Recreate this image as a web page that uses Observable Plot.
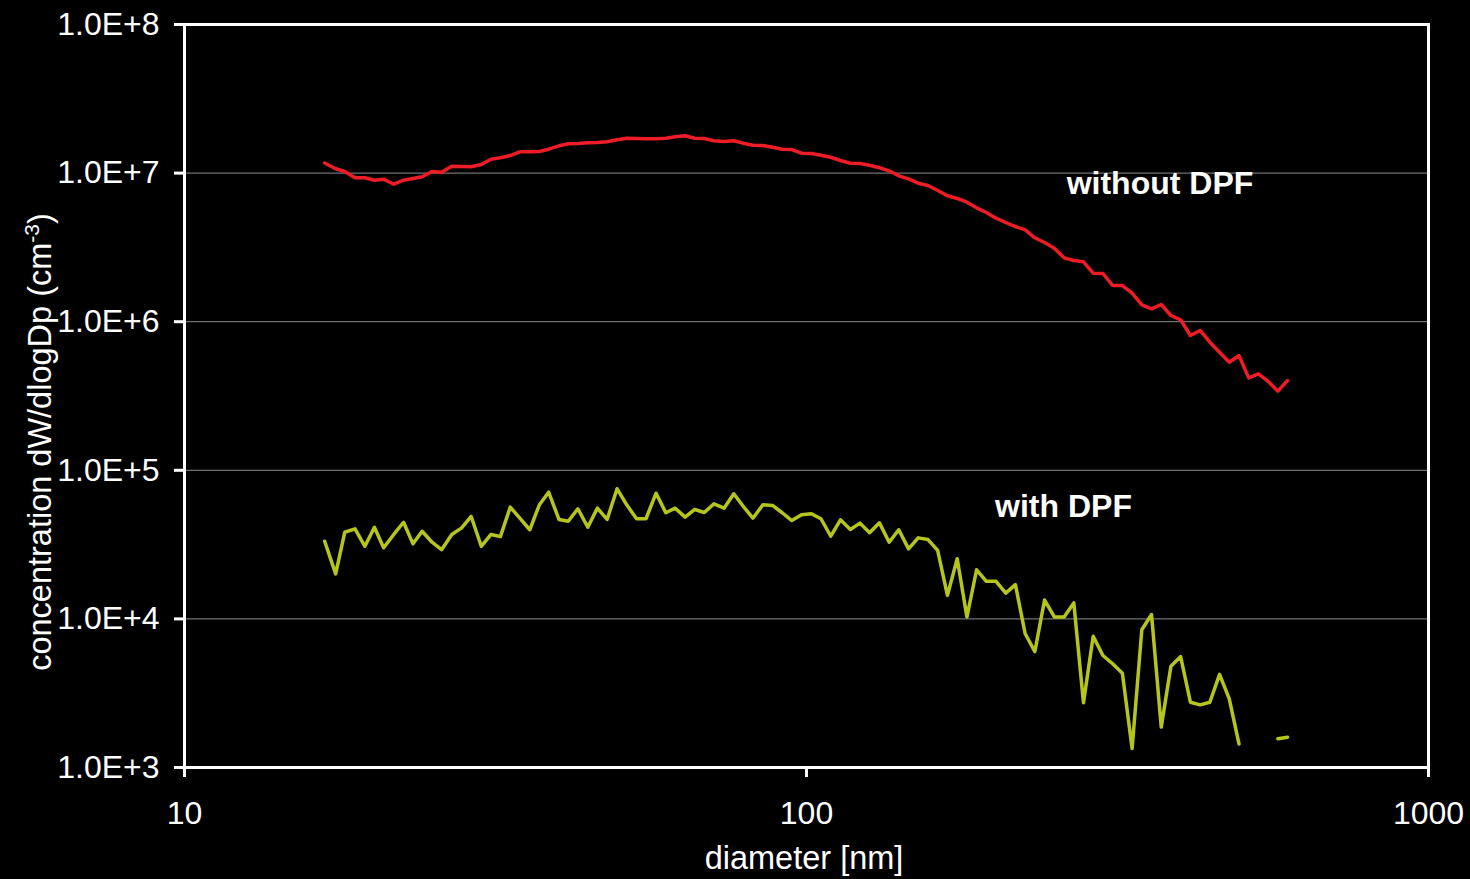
<!DOCTYPE html>
<html><head><meta charset="utf-8">
<script src="https://cdn.jsdelivr.net/npm/d3@7"></script>
<script src="https://cdn.jsdelivr.net/npm/@observablehq/plot@0.6"></script>
<style>html,body{margin:0;padding:0;background:#000;} #chart{width:1470px;height:879px;}</style>
</head><body><div id="chart"></div>
<script>
// diameter channels [nm]
const diameter = [16.8,17.5,18.1,18.8,19.5,20.2,20.9,21.7,22.5,23.3,
  24.1,25.0,25.9,26.9,27.9,28.9,30.0,31.1,32.2,33.4,
  34.6,35.9,37.2,38.5,40.0,41.4,42.9,44.5,46.1,47.8,
  49.6,51.4,53.3,55.2,57.3,59.4,61.5,63.8,66.1,68.5,
  71.0,73.7,76.4,79.1,82.0,85.1,88.2,91.4,94.7,98.2,
  101.8,105.5,109.4,113.4,117.6,121.9,126.3,131.0,135.8,140.7,
  145.9,151.2,156.8,162.5,168.5,174.7,181.1,187.7,194.6,201.7,
  209.1,216.7,224.7,232.9,241.4,250.3,259.5,269.0,278.8,289.0,
  299.6,310.6,322.0,333.8,346.0,358.7,371.8,385.4,399.5,414.2,
  429.4,445.1,461.4,478.3,495.8,514.0,532.8,552.3,572.5,593.5];
// concentration without DPF
const withoutDPF = [1.17e7,1.07e7,1.025e7,9.30e6,9.30e6,8.96e6,9.10e6,8.42e6,8.96e6,9.20e6,
  9.44e6,1.025e7,1.014e7,1.113e7,1.108e7,1.103e7,1.143e7,1.240e7,1.268e7,1.313e7,
  1.391e7,1.391e7,1.398e7,1.448e7,1.526e7,1.575e7,1.582e7,1.599e7,1.607e7,1.624e7,
  1.675e7,1.718e7,1.709e7,1.701e7,1.701e7,1.718e7,1.755e7,1.782e7,1.718e7,1.709e7,
  1.650e7,1.632e7,1.650e7,1.590e7,1.541e7,1.534e7,1.494e7,1.448e7,1.441e7,1.361e7,
  1.355e7,1.320e7,1.279e7,1.216e7,1.166e7,1.160e7,1.130e7,1.086e7,1.036e7,9.59e6,
  9.15e6,8.55e6,8.25e6,7.64e6,7.04e6,6.75e6,6.37e6,5.84e6,5.43e6,4.97e6,
  4.65e6,4.37e6,4.15e6,3.67e6,3.41e6,3.12e6,2.69e6,2.58e6,2.53e6,2.12e6,
  2.11e6,1.752e6,1.752e6,1.555e6,1.299e6,1.221e6,1.305e6,1.101e6,1.030e6,8.07e5,
  8.73e5,7.28e5,6.23e5,5.34e5,5.92e5,4.19e5,4.46e5,3.96e5,3.41e5,4.02e5];
// concentration with DPF (null = no value)
const withDPF = [3.33e4,2.01e4,3.83e4,4.04e4,3.08e4,4.14e4,3.01e4,3.70e4,4.47e4,3.20e4,
  3.89e4,3.28e4,2.92e4,3.70e4,4.10e4,4.89e4,3.08e4,3.70e4,3.58e4,5.65e4,
  4.76e4,3.98e4,5.86e4,7.12e4,4.67e4,4.54e4,5.51e4,4.14e4,5.56e4,4.67e4,
  7.51e4,5.86e4,4.72e4,4.72e4,7.01e4,5.18e4,5.56e4,4.84e4,5.45e4,5.20e4,
  5.95e4,5.56e4,6.95e4,5.73e4,4.76e4,5.86e4,5.80e4,5.18e4,4.59e4,5.02e4,
  5.10e4,4.72e4,3.60e4,4.64e4,4.00e4,4.41e4,3.80e4,4.43e4,3.28e4,3.98e4,
  2.96e4,3.51e4,3.42e4,2.89e4,1.44e4,2.54e4,1.03e4,2.14e4,1.79e4,1.79e4,
  1.49e4,1.70e4,7.94e3,6.03e3,1.34e4,1.03e4,1.03e4,1.28e4,2.73e3,7.65e3,
  5.67e3,4.99e3,4.31e3,1.34e3,8.45e3,1.07e4,1.87e3,4.81e3,5.58e3,2.75e3,
  2.64e3,2.75e3,4.23e3,2.90e3,1.44e3,null,null,null,1.56e3,1.60e3];
const xTicks = [10, 100, 1000];
const yTicks = [1e3, 1e4, 1e5, 1e6, 1e7, 1e8];
const seriesLabels = ["without DPF", "with DPF"];
const seriesLabelX = [262, 201];
const seriesLabelY = [8.5e6, 5.7e4];

const rows = diameter.map((d, i) => ({d, without: withoutDPF[i], with: withDPF[i]}));
const fmtY = v => "1.0E+" + Math.round(Math.log10(v));
const font = "'Liberation Sans', Arial, sans-serif";

const plot = Plot.plot({
  width: 1470, height: 879,
  marginLeft: 184, marginRight: 42, marginTop: 24, marginBottom: 112,
  style: {background: "#000", color: "#fff", fontFamily: font},
  x: {type: "log", domain: [10, 1000]},
  y: {type: "log", domain: [1e3, 1e8]},
  marks: [
    Plot.gridY(yTicks.slice(1, -1), {stroke: "#8c8c8c", strokeOpacity: 1, strokeWidth: 1}),
    Plot.line(rows, {x: "d", y: "without", stroke: "#ee1c25", strokeWidth: 3.5}),
    Plot.line(rows, {x: "d", y: "with", stroke: "#b5c51b", strokeWidth: 3.5}),
    Plot.frame({stroke: "#fff", strokeWidth: 3}),
    Plot.axisY(yTicks, {tickFormat: fmtY, tickSize: 10, tickPadding: 15, fontSize: 32, strokeWidth: 3, label: null}),
    Plot.axisX(xTicks, {tickFormat: d => String(d), tickSize: 10, tickPadding: 24, fontSize: 32, strokeWidth: 3, label: null}),
    Plot.text(seriesLabels, {x: seriesLabelX, y: seriesLabelY, text: d => d, fill: "#fff",
      fontSize: 32, fontWeight: "bold", textAnchor: "start"})
  ]
});

const svg = d3.select(plot);
const yt = svg.append("text")
  .attr("transform", "translate(51,442) rotate(-90)")
  .attr("text-anchor", "middle").attr("fill", "#fff")
  .attr("font-size", 32.5).attr("font-family", font);
yt.append("tspan").text("concentration dW/dlogDp (cm");
yt.append("tspan").attr("font-size", 21).attr("dy", -12).text("-3");
yt.append("tspan").attr("dy", 12).text(")");
svg.append("text")
  .attr("x", 804).attr("y", 869)
  .attr("text-anchor", "middle").attr("fill", "#fff")
  .attr("font-size", 32.5).attr("font-family", font)
  .text("diameter [nm]");

document.getElementById("chart").appendChild(plot);
</script>
</body></html>
